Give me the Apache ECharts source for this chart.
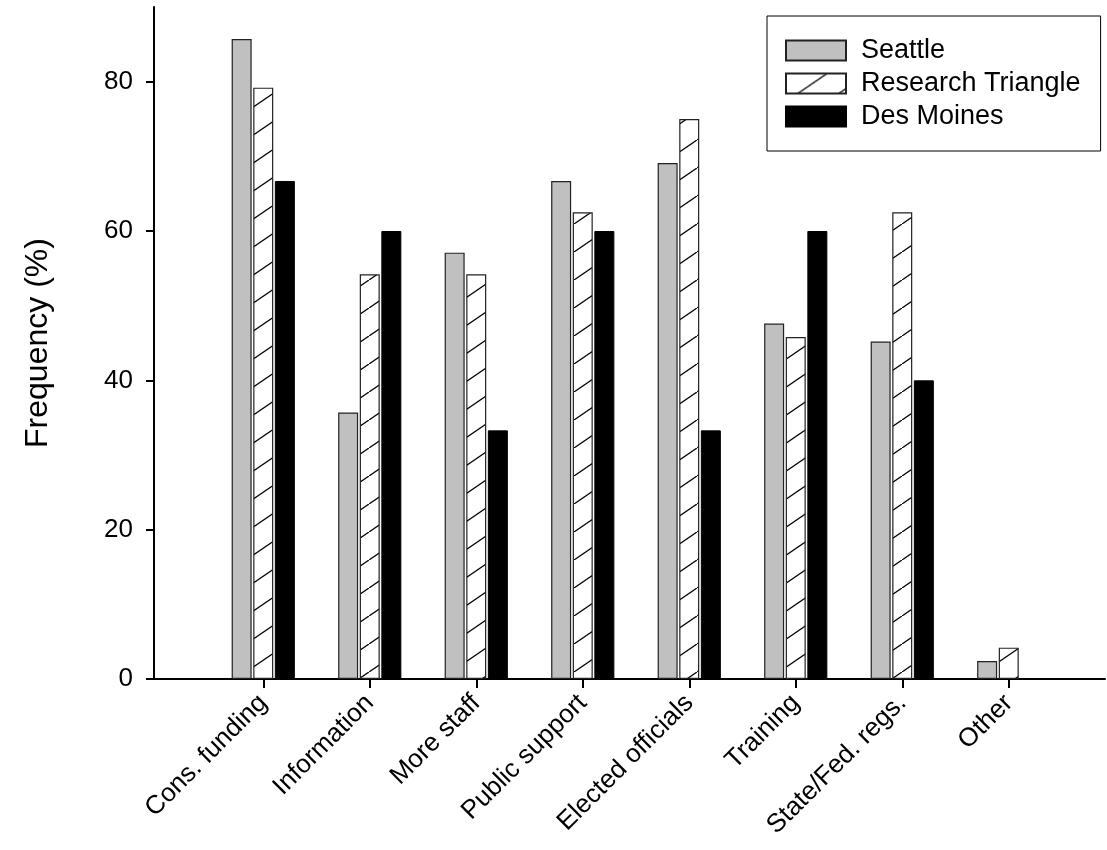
<!DOCTYPE html>
<html>
<head>
<meta charset="utf-8">
<script src="https://cdn.jsdelivr.net/npm/echarts@6/dist/echarts.min.js"></script>
<style>
html,body{margin:0;padding:0;background:#fff;}
#chart{width:1107px;height:850px;}
</style>
</head>
<body>
<div id="chart"></div>
<script>
const categories = ['Cons. funding', 'Information', 'More staff', 'Public support', 'Elected officials', 'Training', 'State/Fed. regs.', 'Other'];
const seriesNames = ['Seattle', 'Research Triangle', 'Des Moines'];
const seattle = [85.7, 35.7, 57.1, 66.7, 69.1, 47.6, 45.2, 2.4];
const researchTriangle = [79.2, 54.2, 54.2, 62.5, 75.0, 45.8, 62.5, 4.2];
const desMoines = [66.7, 60.0, 33.3, 60.0, 33.3, 60.0, 40.0, 0];
const yTicks = [0, 20, 40, 60, 80];
const yMin = 0, yMax = 90;

// hatch pattern
const tile = document.createElement('canvas');
tile.width = 41; tile.height = 28;
const c = tile.getContext('2d');
c.fillStyle = '#ffffff';
c.fillRect(0, 0, 41, 28);
c.strokeStyle = '#000000';
c.lineWidth = 1.3;
for (const o of [-1, 0, 1]) {
  c.beginPath();
  c.moveTo(0 + o * 41, 28 - o * 28);
  c.lineTo(41 + o * 41, 0 - o * 28);
  c.stroke();
}

const FONT = 'Liberation Sans, Arial, sans-serif';
const chart = echarts.init(document.getElementById('chart'));

const option = {
  backgroundColor: '#ffffff',
  animation: false,
  legend: {
    orient: 'vertical',
    left: 767,
    top: 16,
    padding: [21, 20, 21, 18],
    itemWidth: 60,
    itemHeight: 20,
    itemGap: 6,
    icon: 'rect',
    borderColor: '#000',
    borderWidth: 1,
    textStyle: { fontFamily: FONT, fontSize: 27, color: '#000', padding: [0, 0, 0, 10] },
    data: seriesNames
  },
  grid: [
    { left: 154, right: 2, top: 7, bottom: 171 },
    { left: 210, width: 852, top: 7, bottom: 171 }
  ],
  xAxis: [
    {
      type: 'value', gridIndex: 0, min: 0, max: 1,
      axisLine: { show: true, onZero: false, lineStyle: { color: '#000', width: 2 } },
      axisTick: { show: false }, axisLabel: { show: false }, splitLine: { show: false }
    },
    {
      type: 'category', gridIndex: 1, data: categories,
      axisLine: { show: false },
      axisTick: { show: true, alignWithLabel: true, length: 9, lineStyle: { color: '#000', width: 2 } },
      axisLabel: { rotate: 45, margin: 20, fontFamily: FONT, fontSize: 26, color: '#000', interval: 0 },
      splitLine: { show: false }
    }
  ],
  yAxis: [
    {
      type: 'value', gridIndex: 0, min: yMin, max: yMax,
      name: 'Frequency (%)', nameLocation: 'middle', nameGap: 100,
      nameTextStyle: { fontFamily: FONT, fontSize: 32, color: '#000' },
      axisLine: { show: true, lineStyle: { color: '#000', width: 2 } },
      axisTick: { show: true, length: 8, customValues: yTicks, lineStyle: { color: '#000', width: 2 } },
      axisLabel: { customValues: yTicks, margin: 21, fontFamily: FONT, fontSize: 26, color: '#000' },
      splitLine: { show: false }
    },
    {
      type: 'value', gridIndex: 1, min: yMin, max: yMax, show: false,
      splitLine: { show: false }
    }
  ],
  series: [
    {
      name: seriesNames[0], type: 'bar', xAxisIndex: 1, yAxisIndex: 1,
      data: seattle, barWidth: 20, barGap: '8%',
      itemStyle: { color: '#c0c0c0', borderColor: '#222', borderWidth: 1.2 }
    },
    {
      name: seriesNames[1], type: 'bar', xAxisIndex: 1, yAxisIndex: 1,
      data: researchTriangle, barWidth: 20, barGap: '8%',
      itemStyle: { color: { image: tile, repeat: 'repeat' }, borderColor: '#222', borderWidth: 1.2 }
    },
    {
      name: seriesNames[2], type: 'bar', xAxisIndex: 1, yAxisIndex: 1,
      data: desMoines, barWidth: 20, barGap: '8%',
      itemStyle: { color: '#000000', borderColor: '#000', borderWidth: 1 }
    }
  ]
};
chart.setOption(option);
</script>
</body>
</html>
